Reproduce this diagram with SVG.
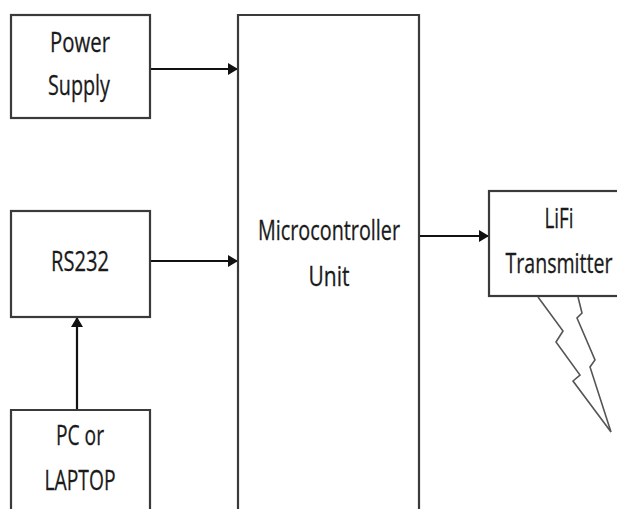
<svg xmlns="http://www.w3.org/2000/svg" width="617" height="509" viewBox="0 0 617 509">
<defs>
<style>
.box{fill:#fff;stroke:#3a3a3a;stroke-width:2.2}
.t{font-family:"Open Sans","Noto Sans",sans-serif;font-size:27px;fill:#1a1a1a;stroke:#1a1a1a;stroke-width:.3;text-anchor:middle}
.c{fill:none;stroke:#111;stroke-width:2.2}
.bolt{fill:none;stroke:#555;stroke-width:1.6}
</style>
<marker id="arrow" markerUnits="userSpaceOnUse" markerWidth="11" markerHeight="14" refX="10" refY="7" orient="auto"><path d="M0 1L10 7L0 13Z" fill="#111"/></marker>
</defs>
<rect width="617" height="509" fill="#fff"/>
<g id="connectors">
<path class="c" d="M150 69H238" marker-end="url(#arrow)"/>
<path class="c" d="M150 261H238" marker-end="url(#arrow)"/>
<path class="c" d="M77 410V317" marker-end="url(#arrow)"/>
<path class="c" d="M419 236H489" marker-end="url(#arrow)"/>
</g>
<g id="power-supply">
<rect class="box" x="11" y="15" width="139" height="103"/>
<text class="t" x="80" y="52" textLength="60" lengthAdjust="spacingAndGlyphs">Power</text>
<text class="t" x="79" y="95" textLength="62" lengthAdjust="spacingAndGlyphs">Supply</text>
</g>
<g id="rs232">
<rect class="box" x="11" y="211" width="139" height="106"/>
<text class="t" x="80" y="271" textLength="58" lengthAdjust="spacingAndGlyphs">RS232</text>
</g>
<g id="pc-laptop">
<path class="box" d="M11 515V410H150V515"/>
<text class="t" x="80" y="445" textLength="48" lengthAdjust="spacingAndGlyphs">PC or</text>
<text class="t" x="80" y="490" textLength="71" lengthAdjust="spacingAndGlyphs">LAPTOP</text>
</g>
<g id="microcontroller">
<path class="box" d="M238 515V15H419V515"/>
<text class="t" x="329" y="240" textLength="142" lengthAdjust="spacingAndGlyphs">Microcontroller</text>
<text class="t" x="329" y="286" textLength="41" lengthAdjust="spacingAndGlyphs">Unit</text>
</g>
<g id="lifi-transmitter">
<rect class="box" x="489" y="191" width="135" height="105"/>
<text class="t" x="559" y="228" textLength="29" lengthAdjust="spacingAndGlyphs">LiFi</text>
<text class="t" transform="translate(559 273) scale(.72 1)" textLength="148.6" lengthAdjust="spacingAndGlyphs">Transmitter</text>
<path class="bolt" d="M538 297L563 331L556 342L580 375L573 381L611 432L590 367L595 360L577 318L582 313L578 297"/>
</g>
</svg>
